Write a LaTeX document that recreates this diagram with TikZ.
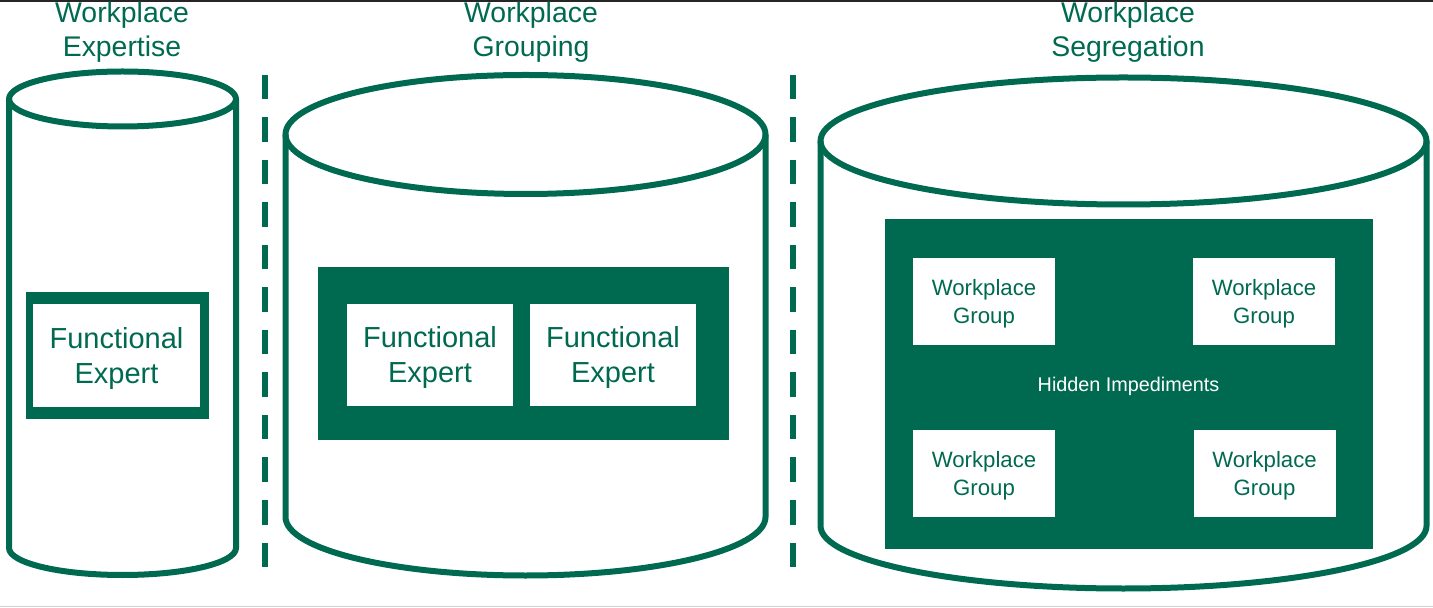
\documentclass[tikz,border=0pt]{standalone}
\usepackage{fontspec}
\setmainfont{Liberation Sans}
\definecolor{wpgreen}{RGB}{0,106,81}

\begin{document}
\begin{tikzpicture}[x=0.5pt, y=-0.5pt]
\tikzstyle{every node}=[inner sep=0pt, align=center, text=wpgreen]
\tikzstyle{tank}=[draw=wpgreen, line width=3pt, line join=round]
\tikzstyle{heading}=[font=\fontsize{14.2}{17}\selectfont]
\tikzstyle{panel}=[fill=wpgreen]
\tikzstyle{expert}=[fill=white, minimum width=83pt, minimum height=51pt]
\tikzstyle{group}=[fill=white, minimum width=71pt, minimum height=43.5pt]
\tikzstyle{expertlbl}=[yshift=-1.5pt, font=\fontsize{14.5}{17.5}\selectfont]
\tikzstyle{grouplbl}=[yshift=-1pt, font=\fontsize{11.1}{14}\selectfont]
\useasboundingbox (0,0) rectangle (1433,608);
\draw[black!85, line width=1pt] (0,1) -- (1433,1);
\draw[black!18, line width=0.6pt] (0,606.8) -- (1433,606.8);
% tanks
\foreach \cx/\rx/\ty/\ry/\by/\ly in {122.5/113.5/99/27.5/548/27,
    525.5/240/134.5/59.5/517/58.5, 1123.5/303/141/63.5/526/62.5}{
  \draw[tank] (\cx-\rx,\ty) -- (\cx-\rx,\by)
     arc[start angle=180, end angle=0, x radius=\rx, y radius=\ly] -- (\cx+\rx,\ty);
  \draw[tank] (\cx,\ty) ellipse[x radius=\rx, y radius=\ry];}
\foreach \sx in {265,793}{\draw[wpgreen, line width=3pt, dash pattern=on 12.25pt off 9pt] (\sx,75) -- (\sx,568);}
% titles
\node[heading] (tExp) at (122,32) {Workplace\\Expertise};
\node[heading] (tGrp) at (531,32) {Workplace\\Grouping};
\node[heading] (tSeg) at (1128,32) {Workplace\\Segregation};
% expertise
\node[panel, minimum width=91.5pt, minimum height=63.5pt] (pExp) at (117.5,355.5) {};
\node[expert, minimum width=83.5pt, minimum height=51.5pt,
      label={[expertlbl]center:{Functional\\Expert}}] (fe) at (116.5,355.5) {};
% grouping
\node[panel, minimum width=205.5pt, minimum height=86.5pt] (pGrp) at (523.5,353.5) {};
\node[expert, label={[expertlbl]center:{Functional\\Expert}}] (feA) at (430,355) {};
\node[expert, label={[expertlbl]center:{Functional\\Expert}}] (feB) at (613,355) {};
% segregation
\node[panel, minimum width=244pt, minimum height=165pt] (pSeg) at (1129,384) {};
\node[group, label={[grouplbl]center:{Workplace\\Group}}] (wgA) at (984,301.5) {};
\node[group, label={[grouplbl]center:{Workplace\\Group}}] (wgB) at (1264,301.5) {};
\node[group, label={[grouplbl]center:{Workplace\\Group}}] (wgC) at (984,473.5) {};
\node[group, label={[grouplbl]center:{Workplace\\Group}}] (wgD) at (1264.5,473.5) {};
\node[text=white, font=\fontsize{9.9}{12}\selectfont] (hid) at (1128.5,386) {Hidden Impediments};
\end{tikzpicture}
\end{document}
